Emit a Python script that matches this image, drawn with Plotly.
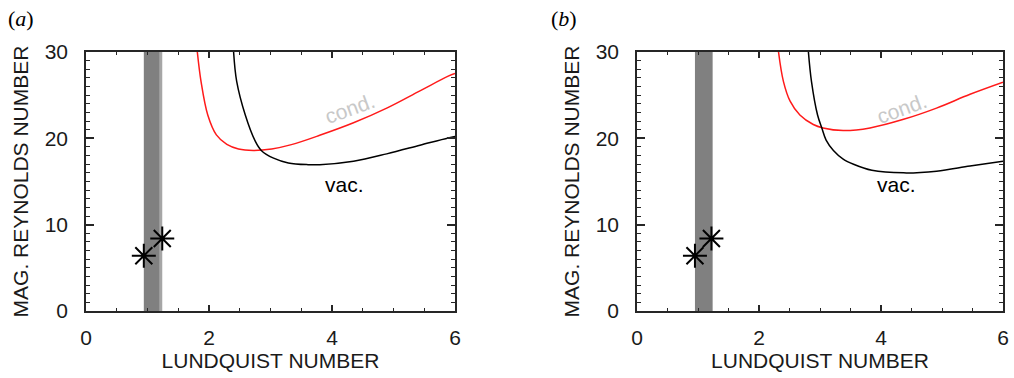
import plotly.graph_objects as go

# ---------------- data ----------------
x_ticks = [0, 2, 4, 6]
y_ticks = [0, 10, 20, 30]
x_range = [0, 6]
y_range = [0, 30]

# panel (a)
a_cond_x = [1.81, 1.87, 1.98, 2.12, 2.29, 2.48, 2.72, 3.02, 3.34, 3.80, 4.35, 4.89, 5.43, 5.89, 6.0]
a_cond_y = [30.0, 26.6, 22.7, 20.4, 19.3, 18.77, 18.6, 18.77, 19.27, 20.35, 21.8, 23.5, 25.5, 27.2, 27.5]
a_vac_x = [2.40, 2.45, 2.59, 2.75, 2.85, 3.05, 3.29, 3.61, 3.80, 4.35, 4.89, 5.43, 5.89, 6.0]
a_vac_y = [30.0, 26.6, 22.7, 19.7, 18.6, 17.7, 17.15, 16.95, 16.95, 17.35, 18.2, 19.2, 20.05, 20.2]
a_star_x = [0.94, 1.24]
a_star_y = [6.4, 8.4]
a_band = [0.94, 1.20]
a_band_edge = [1.20, 1.24]

# panel (b)
b_cond_x = [2.32, 2.40, 2.51, 2.67, 2.89, 3.05, 3.38, 3.82, 4.37, 4.91, 5.46, 6.0]
b_cond_y = [30.0, 26.6, 24.3, 22.7, 21.6, 21.2, 20.9, 21.2, 22.2, 23.5, 25.1, 26.5]
b_vac_x = [2.81, 2.86, 2.96, 3.03, 3.10, 3.22, 3.38, 3.55, 3.85, 4.37, 4.91, 5.46, 6.0]
b_vac_y = [30.0, 26.6, 22.7, 21.2, 19.8, 18.6, 17.6, 17.0, 16.3, 16.0, 16.2, 16.8, 17.35]
b_star_x = [0.95, 1.22]
b_star_y = [6.4, 8.4]
b_band = [0.95, 1.24]

# label positions (data coords)
a_cond_lbl = (4.29, 23.5)
a_vac_lbl = (4.21, 14.7)
b_cond_lbl = (4.34, 23.5)
b_vac_lbl = (4.26, 14.7)

x_title = "LUNDQUIST NUMBER"
y_title = "MAG. REYNOLDS NUMBER"

FONT = "Liberation Sans, Arial, sans-serif"
AX = "#262626"
TXT = "#1a1a1a"

fig = go.Figure()

def add_panel(xa, ya, cx, cy, vx, vy, sx, sy):
    fig.add_trace(go.Scatter(x=cx, y=cy, mode="lines", xaxis=xa, yaxis=ya,
                             line=dict(color="#ff1a1a", width=1.5, shape="spline", smoothing=1.0),
                             showlegend=False, hoverinfo="skip"))
    fig.add_trace(go.Scatter(x=vx, y=vy, mode="lines", xaxis=xa, yaxis=ya,
                             line=dict(color="black", width=1.5, shape="spline", smoothing=1.0),
                             showlegend=False, hoverinfo="skip"))
    fig.add_trace(go.Scatter(x=sx, y=sy, mode="markers", xaxis=xa, yaxis=ya,
                             marker=dict(symbol="asterisk-open", size=20, color="black",
                                         line=dict(color="black", width=2)),
                             showlegend=False, hoverinfo="skip", cliponaxis=False))

add_panel("x", "y", a_cond_x, a_cond_y, a_vac_x, a_vac_y, a_star_x, a_star_y)
add_panel("x2", "y2", b_cond_x, b_cond_y, b_vac_x, b_vac_y, b_star_x, b_star_y)

shapes = [
    dict(type="rect", xref="x", yref="y", x0=a_band[0], x1=a_band[1], y0=y_range[0], y1=y_range[1],
         fillcolor="#808080", line=dict(width=0), layer="below"),
    dict(type="rect", xref="x", yref="y", x0=a_band_edge[0], x1=a_band_edge[1], y0=y_range[0], y1=y_range[1],
         fillcolor="#a6a6a6", line=dict(width=0), layer="below"),
    dict(type="rect", xref="x2", yref="y2", x0=b_band[0], x1=b_band[1], y0=y_range[0], y1=y_range[1],
         fillcolor="#808080", line=dict(width=0), layer="below"),
]

annotations = []
for xr, yr, cl, vl in [("x", "y", a_cond_lbl, a_vac_lbl), ("x2", "y2", b_cond_lbl, b_vac_lbl)]:
    annotations.append(dict(x=cl[0], y=cl[1], xref=xr, yref=yr, text="cond.", showarrow=False,
                            textangle=-20, font=dict(family=FONT, size=21, color="#c8c8c8")))
    annotations.append(dict(x=vl[0], y=vl[1], xref=xr, yref=yr, text="vac.", showarrow=False,
                            font=dict(family=FONT, size=21, color="black")))

for lbl, px in [("(<i>a</i>)", 21), ("(<i>b</i>)", 564)]:
    annotations.append(dict(x=px / 1014, y=1 - 19 / 378, xref="paper", yref="paper", text=lbl,
                            xanchor="center", yanchor="middle", showarrow=False,
                            font=dict(family="Liberation Serif, Times New Roman, serif",
                                      size=22, color="black")))

def xaxis(domain, anchor):
    return dict(domain=domain, anchor=anchor, range=x_range, tickvals=x_ticks,
                ticktext=[str(v) for v in x_ticks], automargin=False,
                ticks="inside", ticklen=6, tickwidth=1.5, tickcolor=AX,
                minor=dict(dtick=0.5, tick0=0, ticks="inside", ticklen=3, tickwidth=1, tickcolor=AX),
                showline=True, linewidth=1.5, linecolor=AX, mirror="allticks",
                showgrid=False, zeroline=False, ticklabelstandoff=7,
                tickfont=dict(family=FONT, size=21, color=TXT),
                title=dict(text=x_title, font=dict(family=FONT, size=21, color=TXT), standoff=2))

def yaxis(domain, anchor):
    return dict(domain=domain, anchor=anchor, range=y_range, tickvals=y_ticks,
                ticktext=[str(v) for v in y_ticks], automargin=False,
                ticks="inside", ticklen=8, tickwidth=1.5, tickcolor=AX,
                minor=dict(dtick=1, tick0=0, ticks="inside", ticklen=4, tickwidth=1, tickcolor=AX),
                showline=True, linewidth=1.5, linecolor=AX, mirror="allticks",
                showgrid=False, zeroline=False, ticklabelstandoff=12,
                tickfont=dict(family=FONT, size=21, color=TXT),
                title=dict(text=y_title, font=dict(family=FONT, size=21, color=TXT), standoff=10))

ydom = [(378 - 311) / 378, (378 - 52) / 378]
fig.update_layout(
    width=1014, height=378,
    margin=dict(l=0, r=0, t=0, b=0, autoexpand=False),
    paper_bgcolor="white", plot_bgcolor="white",
    xaxis=xaxis([86 / 1014, 455 / 1014], "y"),
    yaxis=yaxis(ydom, "x"),
    xaxis2=xaxis([637 / 1014, 1003 / 1014], "y2"),
    yaxis2=yaxis(ydom, "x2"),
    shapes=shapes,
    annotations=annotations,
    showlegend=False,
)

fig.write_html("out.html", config={"displayModeBar": False})
